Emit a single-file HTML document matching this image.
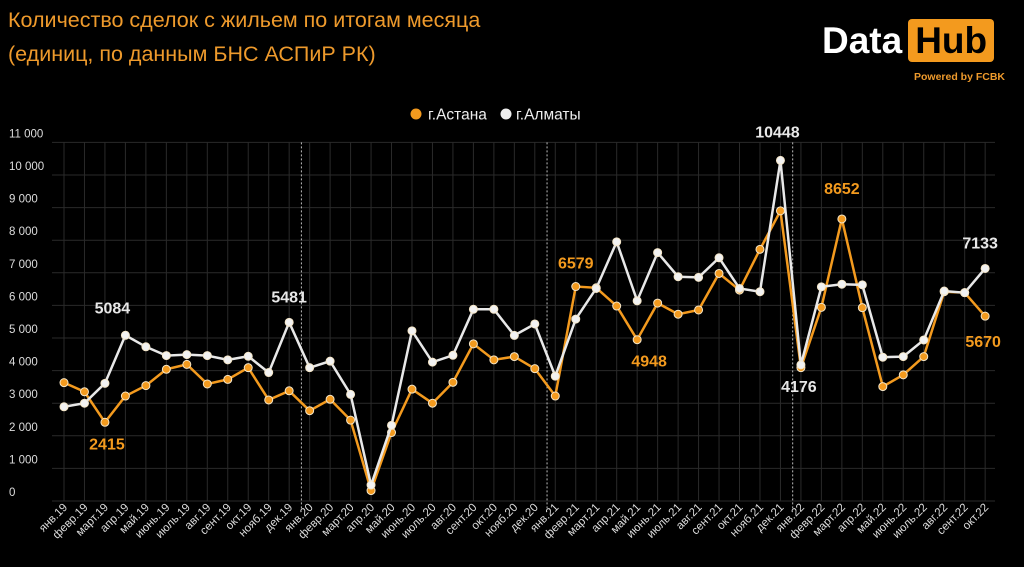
<!DOCTYPE html>
<html><head><meta charset="utf-8">
<style>
body{margin:0;background:#000;width:1024px;height:567px;overflow:hidden;font-family:"Liberation Sans","DejaVu Sans",sans-serif}
.t{position:absolute;left:8px;color:#EE9A2C;font-size:21.5px;}
</style></head>
<body>
<div class="t" style="top:8px">Количество сделок с жильем по итогам месяца</div>
<div class="t" style="top:42px">(единиц, по данным БНС АСПиР РК)</div>
<div style="position:absolute;left:822px;top:19px;height:44px;white-space:nowrap">
<span style="color:#fff;font-weight:bold;font-size:37px;line-height:44px;vertical-align:top">Data</span><span style="display:inline-block;background:#F39A1E;color:#000;font-weight:bold;font-size:37px;line-height:43px;padding:0 7px;border-radius:4px;margin-left:6px">Hub</span>
</div>
<div style="position:absolute;left:914px;top:71px;color:#EE9A2C;font-size:10.5px;font-weight:bold">Powered by FCBK</div>
<svg id="c" width="1024" height="567" style="position:absolute;left:0;top:0"></svg>
<script>
const months=["янв.19","февр.19","март.19","апр.19","май.19","июнь.19","июль.19","авг.19","сент.19","окт.19","нояб.19","дек.19","янв.20","февр.20","март.20","апр.20","май.20","июнь.20","июль.20","авг.20","сент.20","окт.20","нояб.20","дек.20","янв.21","февр.21","март.21","апр.21","май.21","июнь.21","июль.21","авг.21","сент.21","окт.21","нояб.21","дек.21","янв.22","февр.22","март.22","апр.22","май.22","июнь.22","июль.22","авг.22","сент.22","окт.22"];
const astana=[3630,3350,2415,3220,3540,4040,4190,3590,3730,4090,3100,3380,2770,3120,2480,320,2100,3430,3000,3640,4820,4330,4430,4060,3220,6579,6540,5980,4948,6070,5730,5860,6980,6470,7720,8900,4090,5940,8652,5930,3510,3870,4430,6420,6390,5670];
const almaty=[2890,3000,3610,5084,4730,4460,4490,4460,4330,4440,3940,5481,4090,4290,3270,490,2320,5220,4260,4470,5880,5880,5080,5430,3830,5580,6520,7950,6140,7620,6880,6860,7460,6520,6420,10448,4176,6570,6650,6630,4410,4430,4940,6440,6390,7133];
const yTicks=[0,1000,2000,3000,4000,5000,6000,7000,8000,9000,10000,11000];
const astanaLabelIdx=[2,25,28,38,45];
const almatyLabelIdx=[3,11,35,36,45];
const aOff=[[2,27],[0,-18],[12,27],[0,-25],[-2,31]];
const wOff=[[-13,-22],[0,-20],[-3,-23],[-2,27],[-5,-20]];
const svg=document.getElementById('c');
const NS='http://www.w3.org/2000/svg';
const X=i=>64+20.47*i, Y=v=>501-0.0326*v;
function mk(t,a,p){const e=document.createElementNS(NS,t);for(const k in a)e.setAttribute(k,a[k]);(p||svg).appendChild(e);return e;}
yTicks.forEach(v=>{
 const l=mk('line',{x1:52,x2:995,y1:Y(v),y2:Y(v),stroke:'#2a2a2a','stroke-width':1});
 
 
 const t=mk('text',{x:9,y:Y(v)-5,fill:'#ddd','font-size':11.5});
 t.textContent=v===0?'0':(v/1000)+' 000';
 
 
});
months.forEach((m,i)=>{
 const l=mk('line',{x1:X(i),x2:X(i),y1:Y(11000),y2:Y(0),stroke:'#2a2a2a','stroke-width':1});
 
 
 const t=mk('text',{x:0,y:0,fill:'#ddd','font-size':11.5,'text-anchor':'end',transform:`translate(${X(i)+4},${508}) rotate(-45)`});
 t.textContent=m;
 
 
 if(m.startsWith('янв')&&i>0){
  const d=mk('line',{x1:X(i-0.5)+2,x2:X(i-0.5)+2,y1:Y(11000),y2:Y(0)+8,stroke:'#bbb','stroke-width':1,'stroke-dasharray':'2,2'});
  
  
 }
});
function series(data,col,fill,name){
 const p=mk('polyline',{points:data.map((v,i)=>X(i)+','+Y(v)).join(' '),fill:'none',stroke:col,'stroke-width':2.5});
 
 
 data.forEach((v,i)=>{
  const c=mk('circle',{cx:X(i),cy:Y(v),r:4,fill:fill,stroke:'#f5e6c8','stroke-width':1});
  
  
 });
}
series(astana,'#F39A1E','#F39A1E','astana');
series(almaty,'#e8e8e8','#f2f2f2','almaty');
function labels(data,idx,off,col,name){
 idx.forEach((i,k)=>{
  const t=mk('text',{x:X(i)+off[k][0],y:Y(data[i])+off[k][1],fill:col,'font-size':16,'font-weight':'bold','text-anchor':'middle'});
  t.textContent=data[i];
  
  
 });
}
labels(astana,astanaLabelIdx,aOff,'#F39A1E','astana');
labels(almaty,almatyLabelIdx,wOff,'#e8e8e8','almaty');
const lg=mk('g',{});


const c1=mk('circle',{cx:416,cy:114,r:5.5,fill:'#F39A1E'},lg);


const t1=mk('text',{x:428,y:119.5,fill:'#eee','font-size':15.5},lg);t1.textContent='г.Астана';


const c2=mk('circle',{cx:506,cy:114,r:5.5,fill:'#eee'},lg);


const t2=mk('text',{x:516,y:119.5,fill:'#eee','font-size':15.5},lg);t2.textContent='г.Алматы';


</script>
</body></html>
